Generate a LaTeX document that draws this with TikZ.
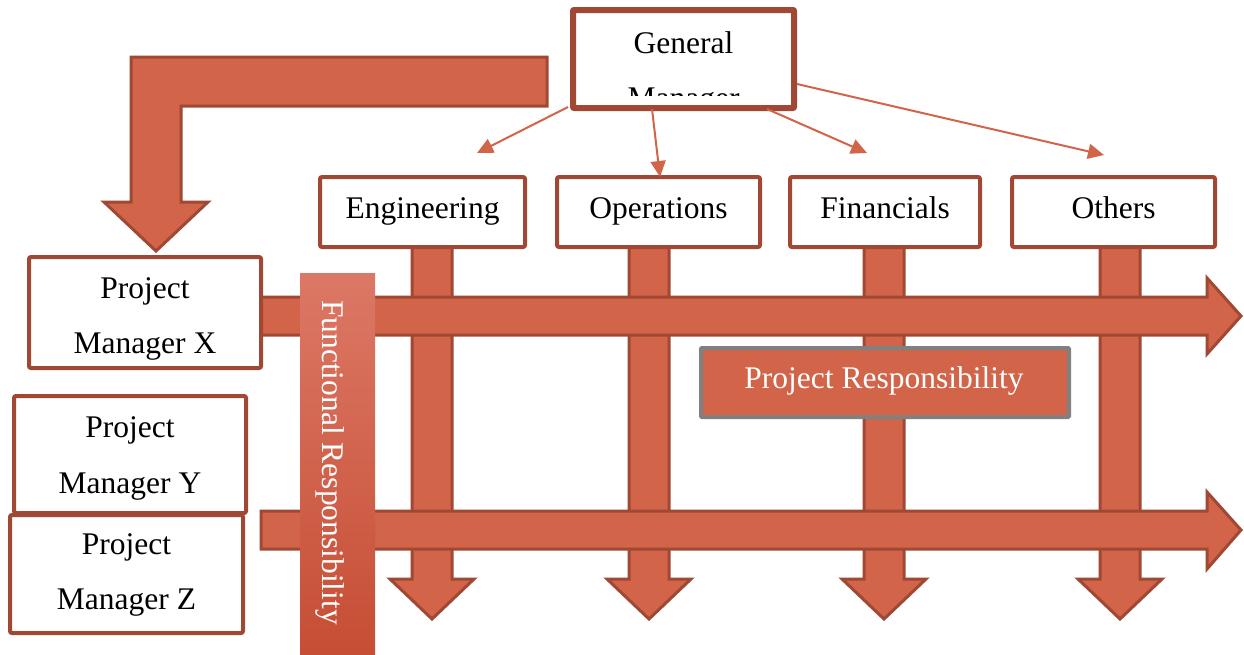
\documentclass[tikz,border=0pt]{standalone}
\usepackage{fontspec}
\setmainfont{Liberation Serif}
\usetikzlibrary{arrows.meta}
\definecolor{fillc}{RGB}{209,100,73}
\definecolor{edgec}{RGB}{160,72,52}
\definecolor{frtop}{RGB}{220,120,102}
\definecolor{frbot}{RGB}{198,78,52}
\definecolor{grayc}{RGB}{128,128,128}
\begin{document}
\begin{tikzpicture}[x=1pt,y=-1pt,
  box/.style={draw=edgec,line width=4pt,fill=white,rounded corners=2pt,inner sep=0pt},
  txt/.style={font=\fontsize{31.5}{38}\selectfont,inner sep=0pt,anchor=base},
  bigarrow/.style={draw=edgec,fill=fillc,line width=3pt,line join=miter},
  thinarrow/.style={draw=fillc,line width=2pt,-{Triangle[length=16pt,width=15pt]}},
]
\useasboundingbox (0,0) rectangle (1244,654);

% L-shaped arrow from general manager to project managers
\path[bigarrow] (547,57) -- (131,57) -- (131,202) -- (104,202) -- (156,251)
  -- (208,202) -- (181,202) -- (181,106) -- (547,106) -- cycle;

% vertical (functional) arrows
\foreach \c in {432,649,884,1120}{
  \path[bigarrow] (\c-20,245) -- (\c+20,245) -- (\c+20,579) -- (\c+42,579)
    -- (\c,619) -- (\c-42,579) -- (\c-20,579) -- cycle;
}

% horizontal (project) arrows
\path[bigarrow] (255,297) -- (1207,297) -- (1207,278) -- (1241,316)
  -- (1207,354) -- (1207,335) -- (255,335) -- cycle;
\path[bigarrow] (261,511) -- (1207,511) -- (1207,492) -- (1241,530)
  -- (1207,569) -- (1207,549) -- (261,549) -- cycle;

% general manager
\node[box,minimum width=219pt,minimum height=96pt] (gm) at (683.5,59) {};
\begin{scope}
  \clip (576,13) rectangle (791,95);
  \node[txt] (gmt1) at (683.5,53) {General};
  \node[txt] (gmt2) at (683.5,108) {Manager};
\end{scope}
\draw[edgec,line width=4pt,rounded corners=2pt] (gm.south west) rectangle (gm.north east);

% functional departments
\node[box,minimum width=205pt,minimum height=70pt] (eng) at (422.5,212) {};
\node[txt] at (422.5,218) {Engineering};
\node[box,minimum width=203pt,minimum height=70pt] (ops) at (658.5,212) {};
\node[txt] at (658.5,218) {Operations};
\node[box,minimum width=190pt,minimum height=70pt] (fin) at (885,212) {};
\node[txt] at (885,218) {Financials};
\node[box,minimum width=203pt,minimum height=70pt] (oth) at (1113.5,212) {};
\node[txt] at (1113.5,218) {Others};

% thin connectors from general manager
\coordinate (e1) at (477,153);
\coordinate (e2) at (660,177);
\coordinate (e3) at (867,153);
\coordinate (e4) at (1104,155);
\draw[thinarrow] ([xshift=-4pt,yshift=2pt]gm.south west) -- (e1);
\draw[thinarrow] ([xshift=-31.5pt]gm.south) -- (e2);
\draw[thinarrow] ([xshift=83.5pt]gm.south) -- (e3);
\draw[thinarrow] ([yshift=-25pt,xshift=2pt]gm.east) -- (e4);

% project managers
\node[box,minimum width=232pt,minimum height=111pt] (pmx) at (145,312.5) {};
\node[txt] at (145,298) {Project};
\node[txt] at (145,353) {Manager X};
\node[box,minimum width=232pt,minimum height=117pt] (pmy) at (130,454.5) {};
\node[txt] at (130,437) {Project};
\node[txt] at (130,493) {Manager Y};
\node[box,minimum width=233pt,minimum height=118pt] (pmz) at (126.5,574) {};
\node[txt] at (126.5,554) {Project};
\node[txt] at (126.5,609) {Manager Z};

% functional responsibility band
\node[inner sep=0pt,minimum width=75pt,minimum height=381pt,
  top color=frtop,bottom color=frbot,draw=none] (fr) at (337.5,463.5) {};
\node[txt,text=white,rotate=-90] (frt) at (322,462.5) {Functional Responsibility};

% project responsibility label
\node[draw=grayc,line width=4pt,fill=fillc,rounded corners=1pt,inner sep=0pt,
  minimum width=368pt,minimum height=69pt] (pr) at (885,382.5) {};
\node[txt,text=white] (prt) at (884,388) {Project Responsibility};
\end{tikzpicture}
\end{document}
